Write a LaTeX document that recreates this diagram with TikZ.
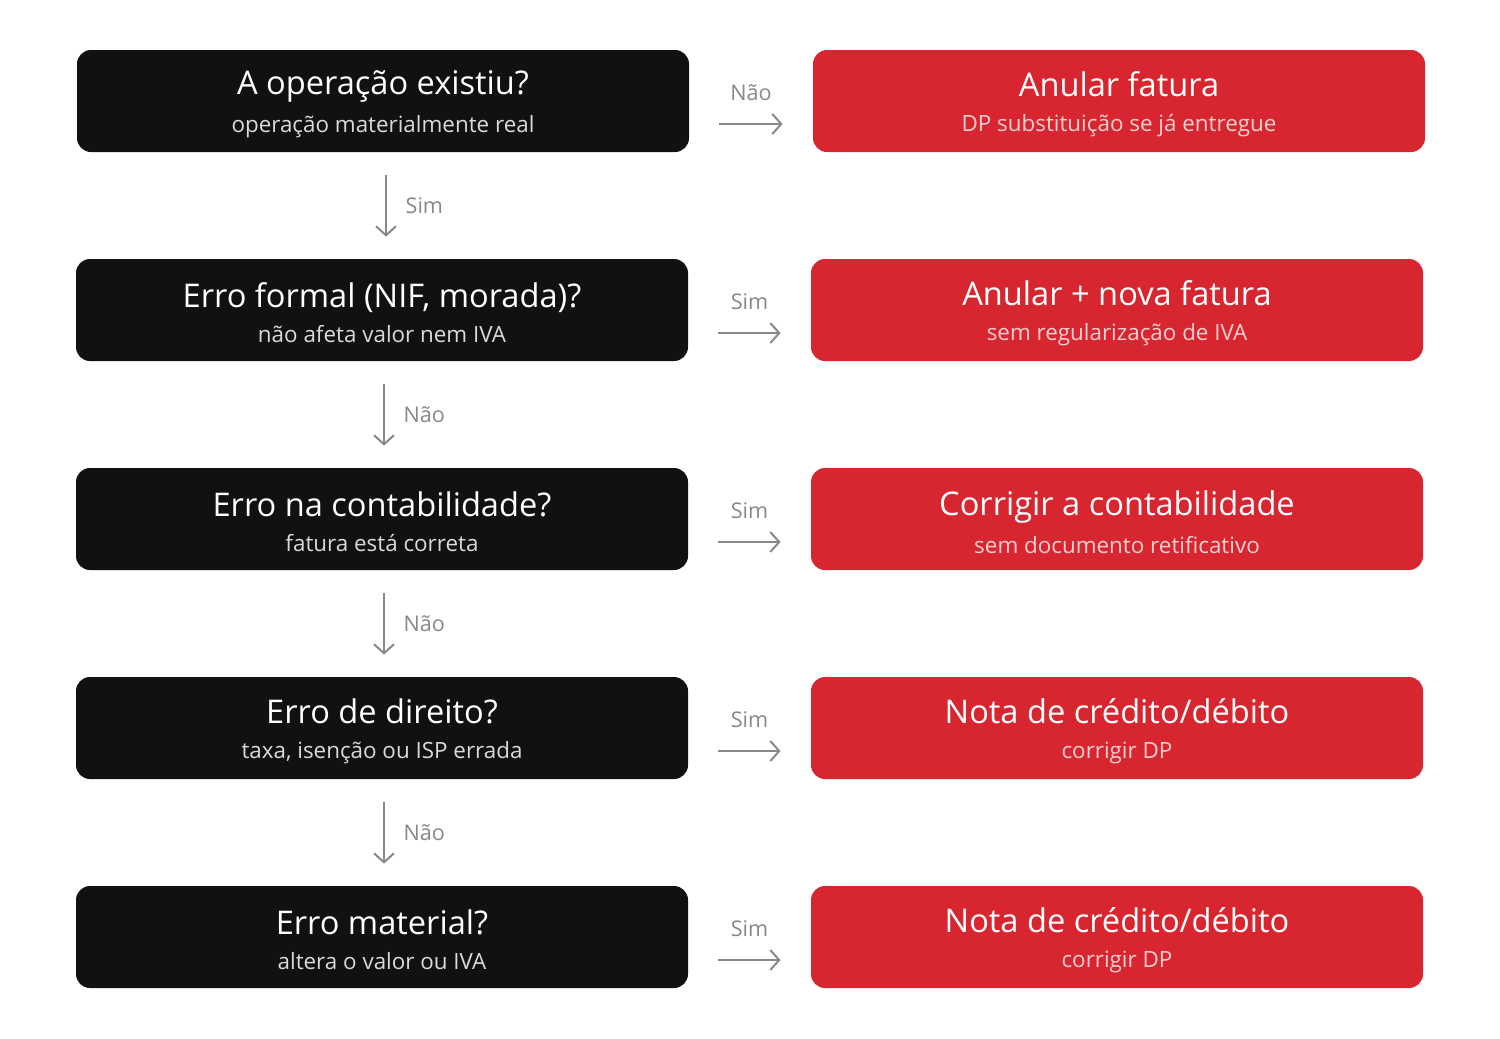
\documentclass[tikz,border=0pt]{standalone}
\usepackage{fontspec}
\setmainfont{Open Sans}
\usetikzlibrary{arrows.meta}
\definecolor{boxblack}{HTML}{111111}
\definecolor{boxred}{HTML}{D7262F}
\definecolor{subgray}{HTML}{DADADA}
\definecolor{subpink}{HTML}{F8CFD1}
\definecolor{arrowgray}{HTML}{888888}
\newcommand{\qtext}[2]{{\fontsize{16.3pt}{18pt}\selectfont\rule{0pt}{15.5pt}#1}\\[5.5pt]{\fontsize{11.2pt}{12pt}\selectfont\color{subgray}#2}}
\newcommand{\atext}[2]{{\fontsize{16.3pt}{18pt}\selectfont\rule{0pt}{15.5pt}#1}\\[5.5pt]{\fontsize{11.2pt}{12pt}\selectfont\color{subpink}#2}}
\begin{document}
\begin{tikzpicture}[%
    x=0.5pt,
    y=-0.5pt,
    question/.style={
      rectangle,
      fill=boxblack,
      text=white,
      align=center,
      rounded corners=7pt,
      minimum width=306pt,
      minimum height=51pt,
      inner sep=0pt
    },
    action/.style={
      rectangle,
      fill=boxred,
      text=white,
      align=center,
      rounded corners=7pt,
      minimum width=306pt,
      minimum height=51pt,
      inner sep=0pt
    },
    flow/.style={
      draw=arrowgray,
      line width=1pt,
      -{Straight Barb[length=4.5pt,width=10pt]}
    },
    answer/.style={
      text=arrowgray,
      font=\fontsize{10.8pt}{12pt}\selectfont
    },
  ]
    \useasboundingbox (0,0) rectangle (1500,1039);
    % questions
    \node[question] (q1) at (383,101) {\qtext{A operação existiu?}{operação materialmente real}};
    \node[question] (q2) at (382,310) {\qtext{Erro formal (NIF, morada)?}{não afeta valor nem IVA}};
    \node[question] (q3) at (382,519) {\qtext{Erro na contabilidade?}{fatura está correta}};
    \node[question] (q4) at (382,728) {\qtext{Erro de direito?}{taxa, isenção ou ISP errada}};
    \node[question] (q5) at (382,937) {\qtext{Erro material?}{altera o valor ou IVA}};
    % actions
    \node[action] (a1) at (1119,101) {\atext{Anular fatura}{DP substituição se já entregue}};
    \node[action] (a2) at (1117,310) {\atext{Anular + nova fatura}{sem regularização de IVA}};
    \node[action] (a3) at (1117,519) {\atext{Corrigir a contabilidade}{sem documento retificativo}};
    \node[action] (a4) at (1117,728) {\atext{Nota de crédito/débito}{corrigir DP}};
    \node[action] (a5) at (1117,937) {\atext{Nota de crédito/débito}{corrigir DP}};
    % yes/no to the right
    \draw [flow] ([xshift=15pt,yshift=-11.5pt]q1.east) -- ([xshift=-15pt,yshift=-11.5pt]a1.west)
      node[answer,midway,above=8pt] {Não};
    \foreach \i in {2,...,5} {
      \draw [flow] ([xshift=15pt,yshift=-11.5pt]q\i.east) -- ([xshift=-15pt,yshift=-11.5pt]a\i.west)
        node[answer,midway,above=8pt] {Sim};
    }
    % down the questions
    \draw [flow] ([xshift=1.5pt,yshift=-11.5pt]q1.south) -- ([xshift=2pt,yshift=11pt]q2.north)
      node[answer,midway,right=6pt] {Sim};
    \foreach \i/\j in {2/3,3/4,4/5} {
      \draw [flow] ([xshift=1pt,yshift=-11.5pt]q\i.south) -- ([xshift=1pt,yshift=11pt]q\j.north)
        node[answer,midway,right=6pt] {Não};
    }
  \end{tikzpicture}
\end{document}
